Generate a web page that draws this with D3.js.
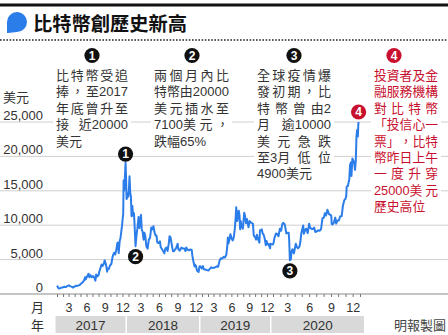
<!DOCTYPE html>
<html>
<head>
<meta charset="utf-8">
<script src="https://cdn.jsdelivr.net/npm/d3@7"></script>
<style>
  html, body { margin: 0; padding: 0; background: #fff; }
  svg { display: block; }
</style>
</head>
<body>
<svg id="chart" width="448" height="335"></svg>
<script>
// ---- data: bitcoin price (USD), 2017 – Dec 2020 ----
const dates = [
  "2017-01-01","2017-01-04","2017-01-07","2017-01-11","2017-01-15","2017-01-20","2017-01-26","2017-02-01","2017-02-08","2017-02-12",
  "2017-02-18","2017-02-24","2017-03-03","2017-03-10","2017-03-17","2017-03-24","2017-03-31","2017-04-07","2017-04-14","2017-04-21",
  "2017-04-28","2017-05-05","2017-05-12","2017-05-19","2017-05-25","2017-05-27","2017-06-03","2017-06-11","2017-06-15","2017-06-20",
  "2017-06-27","2017-07-04","2017-07-10","2017-07-16","2017-07-20","2017-07-26","2017-08-01","2017-08-05","2017-08-12","2017-08-17",
  "2017-08-22","2017-08-28","2017-09-01","2017-09-08","2017-09-14","2017-09-17","2017-09-22","2017-09-29","2017-10-05","2017-10-12",
  "2017-10-15","2017-10-20","2017-10-25","2017-10-31","2017-11-05","2017-11-08","2017-11-12","2017-11-17","2017-11-21","2017-11-26",
  "2017-11-29","2017-12-02","2017-12-05","2017-12-07","2017-12-10","2017-12-13","2017-12-17","2017-12-20","2017-12-22","2017-12-25",
  "2017-12-28","2017-12-31",
  "2018-01-03","2018-01-06","2018-01-10","2018-01-13","2018-01-16","2018-01-20","2018-01-24","2018-01-28","2018-01-31","2018-02-02",
  "2018-02-05","2018-02-07","2018-02-10","2018-02-14","2018-02-20","2018-02-24","2018-02-27","2018-03-04","2018-03-08","2018-03-12",
  "2018-03-17","2018-03-21","2018-03-25","2018-03-31","2018-04-06","2018-04-12","2018-04-18","2018-04-24","2018-04-28","2018-05-05",
  "2018-05-10","2018-05-15","2018-05-20","2018-05-24","2018-05-30","2018-06-06","2018-06-10","2018-06-17","2018-06-24","2018-06-28",
  "2018-07-03","2018-07-08","2018-07-14","2018-07-20","2018-07-24","2018-07-29","2018-08-05","2018-08-10","2018-08-14","2018-08-19",
  "2018-08-26","2018-09-02","2018-09-06","2018-09-12","2018-09-16","2018-09-21","2018-09-28","2018-10-05","2018-10-11","2018-10-15",
  "2018-10-21","2018-10-28","2018-11-04","2018-11-11","2018-11-14","2018-11-19","2018-11-25","2018-11-28","2018-12-02","2018-12-07",
  "2018-12-15","2018-12-20","2018-12-24","2018-12-31",
  "2019-01-06","2019-01-10","2019-01-14","2019-01-20","2019-01-28","2019-02-04","2019-02-10","2019-02-18","2019-02-24","2019-03-04",
  "2019-03-11","2019-03-18","2019-03-25","2019-04-02","2019-04-08","2019-04-15","2019-04-22","2019-04-29","2019-05-06","2019-05-11",
  "2019-05-14","2019-05-17","2019-05-22","2019-05-27","2019-06-03","2019-06-08","2019-06-13","2019-06-18","2019-06-22","2019-06-26",
  "2019-06-28","2019-07-01","2019-07-04","2019-07-09","2019-07-13","2019-07-16","2019-07-19","2019-07-24","2019-07-30","2019-08-06",
  "2019-08-10","2019-08-15","2019-08-20","2019-08-28","2019-09-03","2019-09-08","2019-09-15","2019-09-20","2019-09-24","2019-09-30",
  "2019-10-06","2019-10-10","2019-10-16","2019-10-23","2019-10-26","2019-10-29","2019-11-04","2019-11-09","2019-11-14","2019-11-19",
  "2019-11-25","2019-11-29","2019-12-04","2019-12-10","2019-12-17","2019-12-19","2019-12-25","2019-12-31",
  "2020-01-03","2020-01-07","2020-01-14","2020-01-19","2020-01-24","2020-01-30","2020-02-04","2020-02-09","2020-02-13","2020-02-19",
  "2020-02-22","2020-02-26","2020-03-02","2020-03-07","2020-03-09","2020-03-12","2020-03-13","2020-03-16","2020-03-19","2020-03-23",
  "2020-03-29","2020-04-06","2020-04-10","2020-04-15","2020-04-21","2020-04-25","2020-04-29","2020-05-07","2020-05-10","2020-05-15",
  "2020-05-20","2020-05-26","2020-06-01","2020-06-05","2020-06-12","2020-06-17","2020-06-22","2020-06-27","2020-07-03","2020-07-09",
  "2020-07-15","2020-07-21","2020-07-27","2020-08-02","2020-08-06","2020-08-11","2020-08-17","2020-08-23","2020-08-29","2020-09-02",
  "2020-09-04","2020-09-08","2020-09-13","2020-09-19","2020-09-23","2020-09-28","2020-10-04","2020-10-10","2020-10-16","2020-10-21",
  "2020-10-27","2020-10-31","2020-11-04","2020-11-06","2020-11-11","2020-11-17","2020-11-20","2020-11-24","2020-11-26","2020-11-30",
  "2020-12-03","2020-12-07","2020-12-11","2020-12-14","2020-12-16","2020-12-17","2020-12-20","2020-12-22","2020-12-23","2020-12-25",
  "2020-12-26"
];
const prices = [
  998,1130,890,780,820,895,915,990,1055,1000,
  1050,1180,1260,1110,1070,935,1070,1195,1180,1240,
  1340,1550,1700,1970,2450,2100,2510,2950,2440,2750,
  2450,2600,2400,1930,2850,2560,2720,3230,3880,4300,
  4080,4380,4890,4300,3250,3700,3630,4170,4320,5440,
  5700,6000,5730,6450,7400,7460,5950,7700,8100,9300,
  9900,10900,11600,16500,15000,16500,19100,16600,13800,14000,
  14600,14150,
  15200,17100,14600,14200,11300,12800,11400,11750,10200,8800,
  6950,7700,8600,9500,11200,9600,10300,11500,9300,9100,
  7900,8900,8500,6900,6600,7900,8150,9650,9350,9850,
  9000,8500,8500,7500,7400,7650,6800,6500,6150,5900,
  6600,6750,6250,7350,8400,8200,7000,6200,6200,6400,
  6700,7300,6500,6300,6500,6750,6600,6600,6250,6750,
  6450,6350,6480,6400,5600,4800,4000,4250,4100,3400,
  3200,4050,4050,3700,
  4050,3620,3550,3550,3450,3420,3650,3880,3780,3800,
  3900,4000,3950,4900,5200,5150,5400,5300,5700,7000,
  8200,7350,7900,8700,8000,7800,8200,9300,10700,12600,
  11900,10600,11000,12100,11400,9400,10600,9800,9500,11800,
  11400,10300,10900,9700,10600,10400,10300,10200,8500,8300,
  7900,8600,8000,7450,9250,9200,9400,8800,8600,8100,
  7100,7700,7200,7250,6640,7300,7250,7200,
  7350,8150,8800,8700,8400,9500,9200,10150,10350,10150,
  9650,8800,8900,8900,7900,4900,5600,5000,6200,6500,
  5900,7300,6850,6650,6850,7550,8800,9950,8750,9300,
  9500,8850,10200,9650,9450,9450,9650,9000,9100,9250,
  9200,9400,11000,11100,11750,11400,12250,11650,11500,11400,
  10200,10100,10350,11100,10250,10700,10700,11300,11300,12800,
  13650,13800,14150,15600,15700,16700,18700,19150,17150,19700,
  19450,19150,18050,19250,21300,22800,23850,23480,22900,24700,
  25000
];

const yTicks = [0, 5000, 10000, 15000, 20000, 25000];
const years = [2017, 2018, 2019, 2020];
const monthLabels = { 2: "3", 5: "6", 8: "9", 11: "12" };

// numbered call-outs: date and price of each marked point
const markerNums   = ["1", "2", "3", "4"];
const markerDates  = ["2017-12-17", "2018-02-05", "2020-03-12", "2020-12-26"];
const markerValues = [19100, 6950, 4900, 25000];

const note1Lines = ["比特幣受追", "捧，至2017", "年底曾升至", "接近20000", "美元"];
const note2Lines = ["兩個月內比", "特幣由20000", "美元插水至", "7100美元，", "跌幅65%"];
const note3Lines = ["全球疫情爆", "發初期，比", "特幣曾由2", "月逾10000", "美元急跌", "至3月低位", "4900美元"];
const note4Lines = ["投資者及金", "融服務機構", "對比特幣", "「投信心一", "票」，比特", "幣昨日上午", "一度升穿", "25000美元", "歷史高位"];

// ---- setup ----
const parse = d3.timeParse("%Y-%m-%d");
const series = dates.map((d, i) => ({ date: parse(d), value: prices[i] }));

const W = 448, H = 335;
const LATIN = "'Liberation Sans', Arial, 'Noto Sans CJK TC', sans-serif";
const CJK = "'Liberation Sans', 'Noto Sans CJK TC', 'Noto Sans CJK SC', sans-serif";
const BLUE = "#2b7de9";
const RED = "#c8102e";

const svg = d3.select("#chart");

// calendar years are laid out slightly unevenly on the time axis
const x = d3.scaleTime()
  .domain(years.concat([2021]).map(y => new Date(y, 0, 1)))
  .range([57, 128.5, 202, 273, 360]);
const y = d3.scaleLinear().domain([0, 25000]).range([294, 122]);

// ---- header ----
svg.append("rect").attr("x", 0).attr("y", 3.5).attr("width", W).attr("height", 3).attr("fill", "#111");
svg.append("path")
  .attr("d", "M7,33 L7,22 A10,10 0 1 1 17,32 L8,33 Z")
  .attr("fill", BLUE);
svg.append("text")
  .attr("x", 33).attr("y", 31)
  .attr("font-family", CJK).attr("font-size", 19.5).attr("font-weight", 700)
  .attr("fill", "#111")
  .attr("textLength", 154).attr("lengthAdjust", "spacingAndGlyphs")
  .text("比特幣創歷史新高");
svg.append("line")
  .attr("x1", 0).attr("x2", W).attr("y1", 40).attr("y2", 40)
  .attr("stroke", "#222").attr("stroke-width", 1.6).attr("stroke-dasharray", "1.6,1.6");

// ---- grid ----
svg.append("g").selectAll("line")
  .data(yTicks.filter(v => v > 0))
  .join("line")
  .attr("x1", 0).attr("x2", W)
  .attr("y1", d => y(d)).attr("y2", d => y(d))
  .attr("stroke", "#cfcfcf").attr("stroke-width", 1);

svg.append("line")
  .attr("x1", 0).attr("x2", W).attr("y1", y(0)).attr("y2", y(0))
  .attr("stroke", "#8a8a8a").attr("stroke-width", 1);

// y labels sit just above their gridlines
svg.append("g").selectAll("text")
  .data(yTicks)
  .join("text")
  .attr("x", 43).attr("y", d => y(d) - 2)
  .attr("text-anchor", "end")
  .attr("font-family", LATIN).attr("font-size", 13).attr("fill", "#333")
  .text(d => d3.format(",")(d));
svg.append("text")
  .attr("x", 3).attr("y", 102)
  .attr("font-family", CJK).attr("font-size", 13).attr("fill", "#333")
  .text("美元");

// ---- x axis: monthly ticks ----
const months = d3.timeMonth.range(new Date(2017, 0, 1), new Date(2021, 0, 2));
const xAxis = d3.axisBottom(x)
  .tickValues(months)
  .tickSize(3)
  .tickFormat(d => monthLabels[d.getMonth()] || "");
const gx = svg.append("g").attr("transform", `translate(0,${y(0)})`).call(xAxis);
gx.select(".domain").remove();
gx.selectAll(".tick line").attr("stroke", "#777");
gx.selectAll(".tick text")
  .attr("y", 18).attr("dy", 0)
  .attr("font-family", LATIN).attr("font-size", 12.5).attr("fill", "#333");

svg.append("text").attr("x", 37.5).attr("y", 312)
  .attr("text-anchor", "middle")
  .attr("font-family", CJK).attr("font-size", 13).attr("fill", "#333").text("月");
svg.append("text").attr("x", 37.5).attr("y", 329.5)
  .attr("text-anchor", "middle")
  .attr("font-family", CJK).attr("font-size", 13).attr("fill", "#333").text("年");

// year bands
const bands = svg.append("g");
years.forEach((yr, i) => {
  const x0 = x(new Date(yr, 0, 1)) - 1.5;
  let x1 = x(new Date(yr + 1, 0, 1)) - 3;
  if (i === years.length - 1) x1 += 7;
  bands.append("rect")
    .attr("x", x0).attr("y", 316).attr("width", x1 - x0).attr("height", 17)
    .attr("fill", "#d9d9d9");
  bands.append("text")
    .attr("x", (x0 + x1) / 2).attr("y", 329.5)
    .attr("text-anchor", "middle")
    .attr("font-family", LATIN).attr("font-size", 13.5).attr("fill", "#333")
    .text(yr);
});

svg.append("text").attr("x", 446).attr("y", 329.5)
  .attr("text-anchor", "end")
  .attr("font-family", CJK).attr("font-size", 13).attr("fill", "#444")
  .text("明報製圖");

// ---- annotation blocks ----
// Lines are split into tokens: single CJK glyphs, with any run of digits glued to
// the glyphs on either side; justified lines spread spare width between tokens.
function tokenize(s) {
  const tokens = [];
  let glue = false;
  for (const c of Array.from(s)) {
    if (/[0-9.,%]/.test(c)) {
      if (tokens.length) tokens[tokens.length - 1] += c; else tokens.push(c);
      glue = true;
    } else if (glue) {
      tokens[tokens.length - 1] += c;
      glue = false;
    } else {
      tokens.push(c);
    }
  }
  return tokens;
}

function drawNote(lines, x0, width, color, size, numLabel, numX) {
  const g = svg.append("g");
  const lineH = 16.4, base0 = 80;
  lines.forEach((t, i) => {
    const last = i === lines.length - 1;
    const by = base0 + i * lineH;
    const tokens = tokenize(t);
    const tx = g.append("text")
      .attr("y", by)
      .attr("font-family", CJK).attr("font-size", size).attr("fill", color);
    const widths = tokens.map(tok => {
      const m = tx.append("tspan").text(tok);
      const w = m.node().getComputedTextLength();
      m.remove();
      return w;
    });
    const total = d3.sum(widths);
    const gap = (last || tokens.length < 2) ? 0 : (width - total) / (tokens.length - 1);
    let cx = x0;
    tokens.forEach((tok, k) => {
      tx.append("tspan").attr("x", cx).text(tok);
      cx += widths[k] + gap;
    });
    const w = last ? total : width;
    g.insert("rect", "text")
      .attr("x", x0 - 3).attr("y", by - 12.5)
      .attr("width", w + 6).attr("height", 16.4)
      .attr("fill", "#fff");
  });
  drawBadge(numLabel, numX, 55.5, color === RED ? RED : "#111");
}

function drawBadge(label, cx, cy, fill) {
  const g = svg.append("g").attr("transform", `translate(${cx},${cy})`);
  g.append("circle").attr("r", 7.6).attr("fill", fill);
  g.append("text")
    .attr("text-anchor", "middle").attr("y", 4.2)
    .attr("font-family", LATIN).attr("font-size", 12).attr("font-weight", 700)
    .attr("fill", "#fff")
    .text(label);
}

drawNote(note1Lines, 56, 72, "#333", 13, "1", 92);
drawNote(note2Lines, 154, 75, "#333", 13, "2", 192);
drawNote(note3Lines, 257, 74, "#333", 13, "3", 294);
drawNote(note4Lines, 374, 64, RED, 12.8, "4", 394);

// ---- price line ----
const line = d3.line()
  .x(d => x(d.date))
  .y(d => y(d.value));
svg.append("path")
  .datum(series)
  .attr("d", line)
  .attr("fill", "none")
  .attr("stroke", BLUE)
  .attr("stroke-width", 2)
  .attr("stroke-linejoin", "round");

// ---- badges on the line ----
const badgeOffsets = [-8.5, 10.5, 10.5, -10];
markerNums.forEach((n, i) => {
  const px = x(parse(markerDates[i]));
  const py = y(markerValues[i]) + badgeOffsets[i];
  drawBadge(n, px, py, i === 3 ? RED : "#111");
});
</script>
</body>
</html>
